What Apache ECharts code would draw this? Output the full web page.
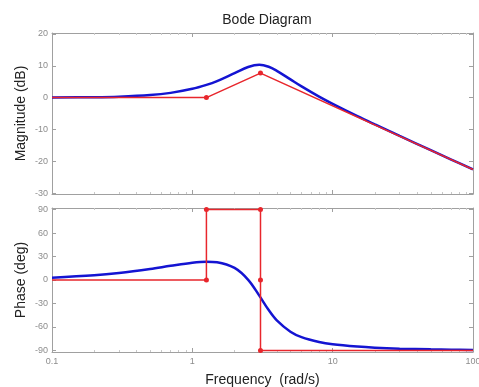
<!DOCTYPE html>
<html><head><meta charset="utf-8">
<script src="https://cdn.jsdelivr.net/npm/echarts@6/dist/echarts.min.js"></script>
<style>html,body{margin:0;padding:0;background:#fff}#c{width:479px;height:387px}</style>
</head><body><div id="c"></div>
<script>
// Frequencies (rad/s) at which the exact (blue) curves were read
const freq = [0.1, 0.2, 0.3, 0.5, 0.7, 1, 1.26, 1.5, 2, 2.5, 3, 3.5, 4, 5, 6, 8, 10, 15, 20, 30, 50, 70, 100];
// Exact magnitude (dB)
const magExact = [0.03, 0.13, 0.3, 0.79, 1.48, 2.75, 3.99, 5.19, 7.67, 9.63, 10.34, 9.71, 8.41, 5.71, 3.51, 0.31, -1.96, -5.83, -8.44, -12.05, -16.53, -19.47, -22.57];
// Exact phase (deg)
const phaseExact = [3.0, 6.0, 8.9, 14.0, 18.1, 22.1, 23.4, 22.7, 15.4, 0.2, -20.0, -38.4, -51.6, -66.1, -73.0, -79.2, -82.1, -85.1, -86.5, -87.7, -88.6, -89.0, -89.3];
// Asymptotic approximation (red)
const magAsymFreq = [0.1, 1.26, 3.06, 100];
const magAsym = [0, 0, 7.7, -22.6];
const magAsymMarked = [false, true, true, false];
const phaseAsymFreq = [0.1, 1.26, 1.26, 3.06, 3.06, 3.06, 100];
const phaseAsym = [0, 0, 90, 90, 0, -90, -90];
const phaseAsymMarked = [false, true, true, true, true, true, false];
// Tick labels
const magTicks = [-30, -20, -10, 0, 10, 20];
const phaseTicks = [-90, -60, -30, 0, 30, 60, 90];

const BLUE = '#1414d2', RED = '#e8262c', FRAME = '#a0a0a0', TICKTXT = '#8c8c8c';
const FONT = 'Liberation Sans';

function pairs(xs, ys){ return xs.map((x,i)=>[x, ys[i]]); }
function marked(xs, ys, m){ return xs.map((x,i)=> m[i] ? {value:[x,ys[i]]} : {value:[x,ys[i]], symbol:'none'}); }

function xAx(grid, pos, showLabel){
  return {
    type:'log', logBase:10, min:0.1, max:100, gridIndex:grid, position:pos,
    axisLine:{show:true, onZero:false, lineStyle:{color:FRAME, width:1}},
    axisTick:{show:true, inside:true, length:4, lineStyle:{color:FRAME}},
    minorTick:{show:true, splitNumber:9, length:2, lineStyle:{color:'#c8c8c8'}},
    axisLabel:{show:showLabel, color:TICKTXT, fontSize:9, fontFamily:FONT, margin:5,
      formatter:v=> (v<1? v.toFixed(1) : String(Math.round(v)))},
    splitLine:{show:false},
    name: (grid===1 && pos==='bottom') ? 'Frequency  (rad/s)' : '',
    nameLocation:'middle', nameGap:21,
    nameTextStyle:{color:'#222', fontSize:14, fontFamily:FONT}
  };
}
function yAx(grid, pos, min, max, ticks, name){
  return {
    type:'value', gridIndex:grid, position:pos, min:min, max:max,
    axisLine:{show:true, onZero:false, lineStyle:{color:FRAME, width:1}},
    axisTick:{show:true, inside:true, length:4, lineStyle:{color:FRAME}, customValues:ticks},
    axisLabel:{show:pos==='left', color:TICKTXT, fontSize:9, fontFamily:FONT, margin:4, customValues:ticks},
    splitLine:{show:false},
    name: pos==='left'? name : '', nameLocation:'middle', nameGap:24, nameRotate:90,
    nameMoveOverlap:false,
    nameTextStyle:{color:'#222', fontSize:14, fontFamily:FONT}
  };
}

const chart = echarts.init(document.getElementById('c'), null, {renderer:'canvas'});
chart.setOption({
  animation:false,
  title:{text:'Bode Diagram', left:262, top:8, textAlign:'center',
    textStyle:{fontSize:14, fontWeight:'normal', color:'#222', fontFamily:FONT}},
  grid:[
    {left:52, right:6, top:33, height:161, outerBoundsMode:'none', containLabel:false},
    {left:52, right:6, top:208, height:144, outerBoundsMode:'none', containLabel:false}
  ],
  xAxis:[ xAx(0,'bottom',false), xAx(0,'top',false), xAx(1,'bottom',true), xAx(1,'top',false) ],
  yAxis:[
    yAx(0,'left',-30.3,20.3,magTicks,'Magnitude (dB)'), yAx(0,'right',-30.3,20.3,magTicks,''),
    yAx(1,'left',-92,92,phaseTicks,'Phase (deg)'), yAx(1,'right',-92,92,phaseTicks,'')
  ],
  series:[
    {type:'line', xAxisIndex:0, yAxisIndex:0, data:pairs(freq, magExact), smooth:0.35, showSymbol:false,
      lineStyle:{color:BLUE, width:2.5}, z:3},
    {type:'line', xAxisIndex:0, yAxisIndex:0, data:marked(magAsymFreq, magAsym, magAsymMarked),
      symbol:'circle', symbolSize:5, itemStyle:{color:RED}, lineStyle:{color:RED, width:1.5}, z:4},
    {type:'line', xAxisIndex:2, yAxisIndex:2, data:pairs(freq, phaseExact), smooth:0.35, showSymbol:false,
      lineStyle:{color:BLUE, width:2.5}, z:3},
    {type:'line', xAxisIndex:2, yAxisIndex:2, data:marked(phaseAsymFreq, phaseAsym, phaseAsymMarked),
      symbol:'circle', symbolSize:5, itemStyle:{color:RED}, lineStyle:{color:RED, width:1.5}, z:4}
  ]
});
</script></body></html>
